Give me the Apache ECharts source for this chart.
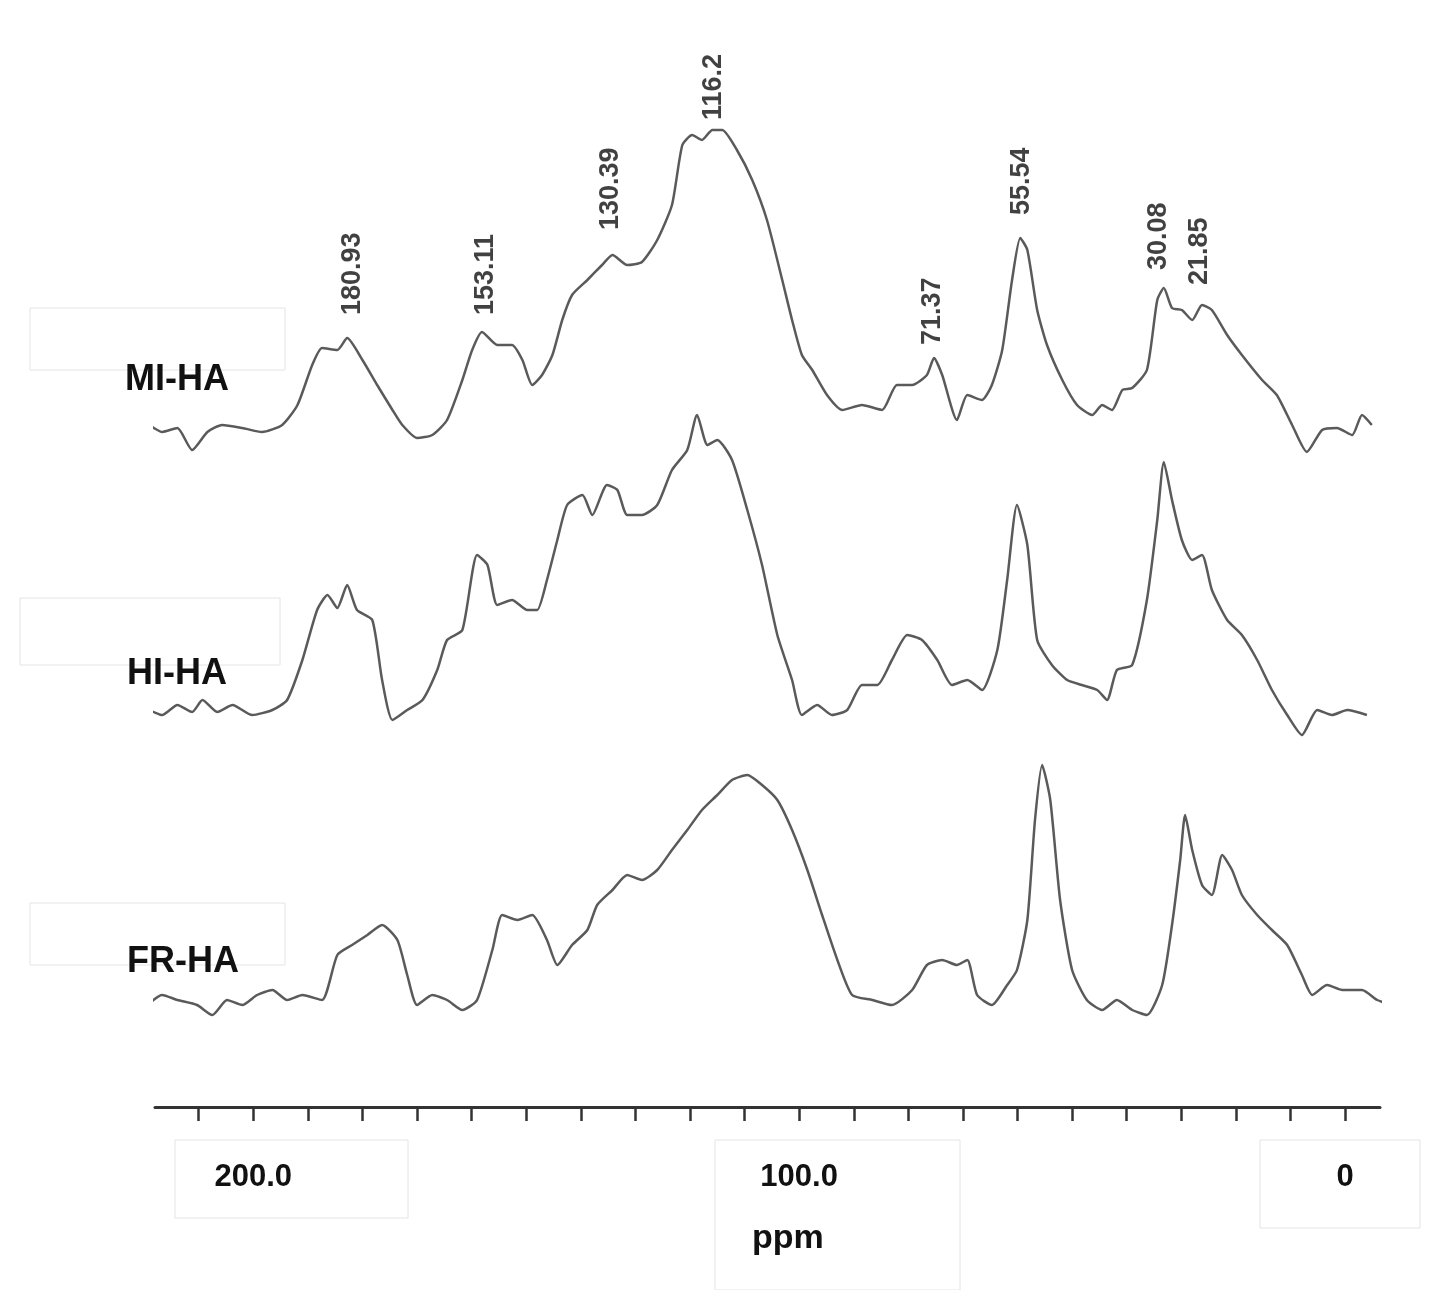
<!DOCTYPE html>
<html><head><meta charset="utf-8">
<script src="https://cdn.jsdelivr.net/npm/echarts@6/dist/echarts.min.js"></script>
<style>html,body{margin:0;padding:0;background:#fff}#c{width:1450px;height:1290px}</style>
</head><body><div id="c"></div>
<script>
const seriesNames = ['MI-HA','HI-HA','FR-HA'];
const miHA = [[222.2,0],[219.4,5],[216.7,-2],[213.9,2],[211.2,-20],[208.4,-2],[205.7,5],[202.0,2],[198.4,-2],[194.7,5],[191.9,25],[189.2,65],[187.4,82],[184.6,80],[182.8,92],[180.0,70],[177.3,45],[174.5,20],[172.7,5],[170.0,-8],[167.2,-5],[164.5,10],[161.7,50],[159.9,80],[158.1,98],[155.3,85],[152.6,85],[150.7,70],[148.9,45],[147.1,55],[145.2,75],[143.4,110],[141.6,135],[138.8,150],[136.1,165],[134.2,175],[131.5,165],[128.8,168],[126.0,190],[123.3,225],[121.4,285],[119.6,295],[117.8,290],[115.9,300],[114.1,300],[111.4,280],[108.6,250],[105.9,210],[103.1,150],[101.3,110],[99.5,75],[97.6,60],[94.9,35],[92.1,20],[88.5,25],[84.8,20],[82.1,45],[79.3,45],[76.6,55],[75.3,72],[73.8,55],[71.1,10],[69.2,35],[66.5,30],[64.7,45],[62.8,80],[61.0,150],[59.5,192],[58.2,180],[56.4,120],[54.6,85],[51.8,50],[49.1,25],[46.3,15],[44.5,25],[42.7,20],[40.8,40],[39.0,42],[36.3,60],[34.4,130],[33.2,142],[31.7,122],[29.9,120],[28.0,110],[26.2,125],[24.4,120],[21.6,95],[18.9,75],[15.2,50],[12.5,35],[9.7,5],[7.0,-22],[4.2,0],[1.5,2],[-1.3,-5],[-3.1,15],[-4.9,5]];
const hiHA = [[222.2,0],[219.4,5],[216.7,0],[213.9,10],[211.2,3],[209.3,15],[206.6,3],[203.8,10],[200.2,0],[196.5,5],[193.8,15],[191.0,55],[188.3,105],[186.4,120],[184.6,107],[182.8,130],[181.0,105],[178.2,95],[176.4,35],[174.5,-5],[171.8,5],[169.0,15],[166.3,45],[164.5,75],[161.7,85],[159.0,160],[157.1,150],[155.3,110],[152.6,115],[149.8,105],[148.0,105],[146.2,135],[144.3,175],[142.5,210],[139.7,220],[137.9,200],[135.2,230],[133.3,225],[131.5,200],[128.8,200],[126.0,210],[123.3,245],[120.5,265],[118.7,300],[116.8,270],[115.0,275],[112.3,255],[109.5,205],[106.8,150],[104.0,80],[101.3,35],[99.5,0],[96.7,10],[94.0,0],[91.2,5],[88.5,30],[85.7,30],[83.0,55],[80.2,80],[77.5,75],[74.7,55],[72.0,30],[69.2,35],[66.5,25],[63.7,65],[61.9,135],[60.1,210],[58.2,170],[56.4,75],[53.7,50],[50.9,35],[48.2,30],[45.4,25],[43.6,15],[41.8,45],[39.0,50],[36.3,115],[34.4,195],[33.2,253],[31.7,215],[29.9,175],[28.0,155],[26.2,160],[24.4,125],[21.6,95],[18.9,80],[16.1,55],[13.4,25],[10.6,0],[7.9,-20],[5.1,5],[2.4,0],[-0.4,5],[-4.0,0]];
const frHA = [[219.4,0],[216.7,10],[213.9,5],[210.3,0],[207.5,-10],[204.8,5],[202.0,0],[199.3,10],[196.5,15],[193.8,5],[191.0,10],[187.4,5],[184.6,50],[181.9,60],[179.1,70],[176.4,80],[173.6,65],[171.8,30],[170.0,0],[167.2,10],[164.5,5],[161.7,-5],[159.0,5],[156.2,55],[154.4,90],[151.6,85],[148.9,90],[146.2,65],[144.3,40],[141.6,60],[138.8,75],[137.0,100],[134.2,115],[131.5,130],[128.8,125],[126.0,135],[123.3,155],[120.5,175],[117.8,195],[115.0,210],[112.3,225],[109.5,230],[106.8,220],[104.0,205],[101.3,175],[98.5,135],[95.8,90],[93.0,45],[90.3,10],[86.6,5],[83.0,0],[79.3,15],[76.6,40],[73.8,45],[71.1,40],[69.2,45],[67.4,10],[64.7,0],[61.9,20],[60.1,35],[58.2,85],[56.8,185],[55.5,240],[54.0,205],[52.2,105],[50.0,35],[47.3,5],[44.5,-5],[41.8,5],[39.0,-5],[36.3,-10],[33.5,20],[31.7,80],[30.2,145],[29.3,190],[28.0,155],[26.2,120],[24.4,110],[22.5,150],[20.7,135],[18.9,110],[16.1,90],[13.4,75],[10.6,60],[7.9,30],[6.0,10],[3.3,20],[0.5,15],[-3.1,15],[-5.9,5],[-8.6,0]];
const peakLabels = ['180.93','153.11','130.39','116.2','71.37','55.54','30.08','21.85'];
const peakLabelX = [181.9,157.5,134.5,115.6,75.5,59.3,34.2,26.6];
const peakLabelY = [115,115,200,310,85,215,160,145];
const tickValues = [0,10,20,30,40,50,60,70,80,90,100,110,120,130,140,150,160,170,180,190,200,210];
const tickLabelValues = [0,100,200];

const chart = echarts.init(document.getElementById('c'));
const gridTop = 100, gridBottom = 1107;
const baselines = [430,715,1005];
const yAxes = baselines.map(b => ({type:'value', show:false, min:-(gridBottom-b), max:b-gridTop}));
const lineStyle = {color:'#5a5a5a', width:2.5};
const mk = (d,i) => ({type:'line', data:d, yAxisIndex:i, showSymbol:false, smooth:0.2, lineStyle, silent:true, animation:false});
const boxes = [[30,308,255,62],[20,598,260,67],[30,903,255,62],[175,1140,233,78],[715,1140,245,150],[1260,1140,160,88]];
chart.setOption({
  animation:false,
  grid:{left:155,right:70,top:gridTop,bottom:1290-gridBottom},
  xAxis:{type:'value', inverse:true, min:-6.4, max:218,
    axisLine:{onZero:false, lineStyle:{color:'#333',width:3}},
    axisTick:{customValues:tickValues, length:14, lineStyle:{color:'#333',width:2.5}},
    axisLabel:{customValues:tickLabelValues, margin:55, fontSize:31, fontWeight:'bold', color:'#111', fontFamily:'Liberation Sans',
      formatter:v=> v===0?'0':v.toFixed(1)},
    splitLine:{show:false}},
  yAxis:yAxes,
  graphic: boxes.map(b=>({type:'rect', shape:{x:b[0],y:b[1],width:b[2],height:b[3]}, style:{fill:'#fff',stroke:'#e4e4e4',lineWidth:1}, z:-1}))
    .concat(seriesNames.map((n,i)=>({type:'text', left:[125,127,127][i], top:[362,656,944][i], style:{text:n, fontSize:36, fontWeight:'bold', fill:'#111', fontFamily:'Liberation Sans'}, z:10})))
    .concat([{type:'text', left:752, top:1222, style:{text:'ppm', fontSize:34, fontWeight:'bold', fill:'#111', fontFamily:'Liberation Sans'}, z:10}]),
  series:[mk(miHA,0), mk(hiHA,1), mk(frHA,2),
    {type:'scatter', yAxisIndex:0, symbolSize:0, silent:true,
     data: peakLabels.map((t,i)=>({value:[peakLabelX[i],peakLabelY[i]], name:t})),
     label:{show:true, formatter:p=>p.name, rotate:90, position:[0,0], align:'left', verticalAlign:'middle', fontSize:27, fontWeight:'bold', color:'#111', fontFamily:'Liberation Sans'}}]
});
</script></body></html>
